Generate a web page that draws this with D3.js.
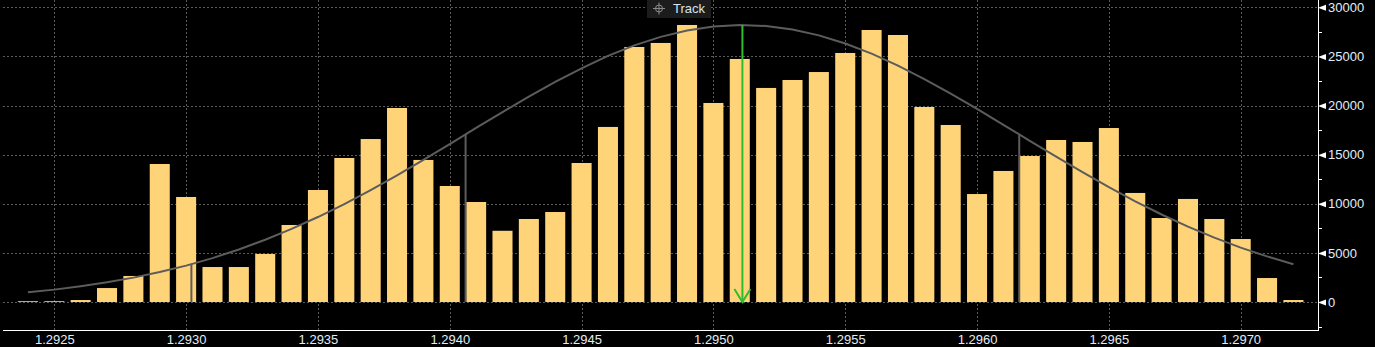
<!DOCTYPE html>
<html>
<head>
<meta charset="utf-8">
<script src="https://cdn.jsdelivr.net/npm/d3@7"></script>
<style>
  html, body { margin: 0; padding: 0; background: #000; }
  svg { display: block; }
  text { font-family: "Liberation Sans", Arial, sans-serif; }
</style>
</head>
<body>
<div id="chart"></div>
<script>
// price bins (bar centres)
const binPrices = [
  1.2924, 1.2925, 1.2926, 1.2927, 1.2928, 1.2929, 1.2930, 1.2931, 1.2932, 1.2933,
  1.2934, 1.2935, 1.2936, 1.2937, 1.2938, 1.2939, 1.2940, 1.2941, 1.2942, 1.2943,
  1.2944, 1.2945, 1.2946, 1.2947, 1.2948, 1.2949, 1.2950, 1.2951, 1.2952, 1.2953,
  1.2954, 1.2955, 1.2956, 1.2957, 1.2958, 1.2959, 1.2960, 1.2961, 1.2962, 1.2963,
  1.2964, 1.2965, 1.2966, 1.2967, 1.2968, 1.2969, 1.2970, 1.2971, 1.2972
];

// volume per bin
const volumes = [
  80, 80, 200, 1420, 2650, 14050, 10690, 3560, 3560, 4890,
  7840, 11400, 14660, 16590, 19750, 14460, 11810, 10180, 7250, 8450,
  9160, 14150, 17820, 25960, 26370, 28200, 20260, 24740, 21790, 22600,
  23410, 25350, 27690, 27180, 19850, 18020, 10990, 13340, 14860, 16490,
  16290, 17710, 11100, 8550, 10490, 8450, 6410, 2440, 200
];

// fitted curve, read at each bin
const curveValues = [
  990, 1260, 1600, 2000, 2480, 3050, 3700, 4470, 5350, 6340,
  7440, 8650, 9970, 11400, 12900, 14470, 16080, 17720, 19330, 20910,
  22400, 23790, 25050, 26120, 26990, 27640, 28050, 28200, 28100, 27740,
  27140, 26310, 25280, 24060, 22700, 21220, 19650, 18040, 16410, 14790,
  13210, 11690, 10250, 8910, 7670, 6550, 5540, 4640, 3850
];

// grey markers (price, height) and the green arrow
const greyMarkers = [
  { price: 1.29302, value: 3850 },
  { price: 1.29406, value: 17100 },
  { price: 1.29616, value: 17100 }
];
const arrowMarker = { price: 1.29511, value: 28200 };

const xTicks = [1.2925, 1.2930, 1.2935, 1.2940, 1.2945, 1.2950, 1.2955, 1.2960, 1.2965, 1.2970];
const yTicks = [0, 5000, 10000, 15000, 20000, 25000, 30000];
const yMinorTicks = [-2500, 2500, 7500, 12500, 17500, 22500, 27500];

const width = 1375, height = 347;
const plotLeft = 3, plotRight = 1318, plotBottom = 330;

const svg = d3.select("#chart")
  .append("svg")
    .attr("width", width)
    .attr("height", height);

svg.append("rect").attr("width", width).attr("height", height).attr("fill", "#000");

const x = d3.scaleLinear()
  .domain([1.2925, 1.2970])
  .range([54.3, 1240.7]);

const y = d3.scaleLinear()
  .domain([0, 30000])
  .range([302, 7.3]);

// grid
const grid = svg.append("g").attr("class", "grid");
grid.selectAll("line.h")
  .data(yTicks)
  .join("line")
    .attr("class", "h")
    .attr("x1", plotLeft).attr("x2", plotRight)
    .attr("y1", d => Math.round(y(d)) + 0.5).attr("y2", d => Math.round(y(d)) + 0.5)
    .attr("stroke", "#5a5a5a")
    .attr("stroke-dasharray", "2,2");
grid.selectAll("line.v")
  .data(xTicks)
  .join("line")
    .attr("class", "v")
    .attr("x1", d => Math.round(x(d)) + 0.5).attr("x2", d => Math.round(x(d)) + 0.5)
    .attr("y1", 0).attr("y2", plotBottom)
    .attr("stroke", "#5a5a5a")
    .attr("stroke-dasharray", "2,2");

// bars
const step = x(1.2926) - x(1.2925);
const barW = step * 0.76;
svg.append("g")
  .selectAll("rect")
  .data(binPrices.map((p, i) => ({ price: p, value: volumes[i] })))
  .join("rect")
    .attr("x", d => x(d.price) - barW / 2)
    .attr("width", barW)
    .attr("y", d => y(d.value))
    .attr("height", d => y(0) - y(d.value))
    .attr("fill", "#ffd479");

// grey markers
svg.append("g")
  .selectAll("line")
  .data(greyMarkers)
  .join("line")
    .attr("x1", d => x(d.price)).attr("x2", d => x(d.price))
    .attr("y1", d => y(d.value)).attr("y2", y(0))
    .attr("stroke", "#5c5c5c")
    .attr("stroke-width", 2);

// curve
const line = d3.line()
  .x((d, i) => x(binPrices[i]))
  .y(d => y(d));
svg.append("path")
  .datum(curveValues)
  .attr("d", line)
  .attr("fill", "none")
  .attr("stroke", "#5c5c5c")
  .attr("stroke-width", 2);

// green arrow
const ax = x(arrowMarker.price);
const ga = svg.append("g")
  .attr("stroke", "#2ebd2e")
  .attr("stroke-width", 2)
  .attr("fill", "none");
ga.append("line")
  .attr("x1", ax).attr("x2", ax)
  .attr("y1", y(arrowMarker.value)).attr("y2", y(0));
ga.append("path")
  .attr("d", `M${ax - 8},${y(0) - 13} L${ax},${y(0)} L${ax + 8},${y(0) - 13}`);

// x axis
const xAxis = d3.axisBottom(x)
  .tickValues(xTicks)
  .tickFormat(d3.format(".4f"))
  .tickSize(0)
  .tickPadding(5);
svg.append("g")
  .attr("transform", `translate(0,${plotBottom})`)
  .call(xAxis)
  .call(g => g.select(".domain").remove())
  .call(g => g.selectAll("text")
    .attr("fill", "#e2edf8")
    .attr("font-size", 13)
    .attr("font-family", "'Liberation Sans', Arial, sans-serif"));
svg.append("line")
  .attr("x1", plotLeft).attr("x2", plotRight + 1)
  .attr("y1", plotBottom + 0.5).attr("y2", plotBottom + 0.5)
  .attr("stroke", "#fff");

// y axis (right)
const yAxis = d3.axisRight(y)
  .tickValues(yTicks)
  .tickFormat(d3.format("d"))
  .tickSize(0)
  .tickPadding(10);
const yg = svg.append("g")
  .attr("transform", `translate(${plotRight},0)`)
  .call(yAxis)
  .call(g => g.select(".domain").remove())
  .call(g => g.selectAll("text")
    .attr("fill", "#e2edf8")
    .attr("font-size", 13)
    .attr("font-family", "'Liberation Sans', Arial, sans-serif"));
yg.selectAll(".tick").append("path")
  .attr("d", "M0,0 L8,-3 L8,3 Z")
  .attr("fill", "#fff");
yg.selectAll("line.minor")
  .data(yMinorTicks)
  .join("line")
    .attr("class", "minor")
    .attr("x1", 0).attr("x2", 4)
    .attr("y1", d => Math.round(y(d)) + 0.5).attr("y2", d => Math.round(y(d)) + 0.5)
    .attr("stroke", "#fff");
svg.append("line")
  .attr("x1", plotRight + 0.5).attr("x2", plotRight + 0.5)
  .attr("y1", 0).attr("y2", plotBottom + 1)
  .attr("stroke", "#fff");

// Track button
const tb = svg.append("g").attr("transform", "translate(647,0)");
tb.append("rect")
  .attr("width", 64).attr("height", 18)
  .attr("fill", "#1c1c1c");
const ic = tb.append("g").attr("transform", "translate(12,8.5)")
  .attr("stroke", "#8a8a8a").attr("fill", "none").attr("stroke-width", 1);
ic.append("circle").attr("r", 3.5);
ic.append("line").attr("x1", -6).attr("x2", 6);
ic.append("line").attr("y1", -6).attr("y2", 6);
tb.append("text")
  .attr("x", 26).attr("y", 13)
  .attr("fill", "#d6e4f2")
  .attr("font-size", 13)
  .text("Track");
</script>
</body>
</html>
